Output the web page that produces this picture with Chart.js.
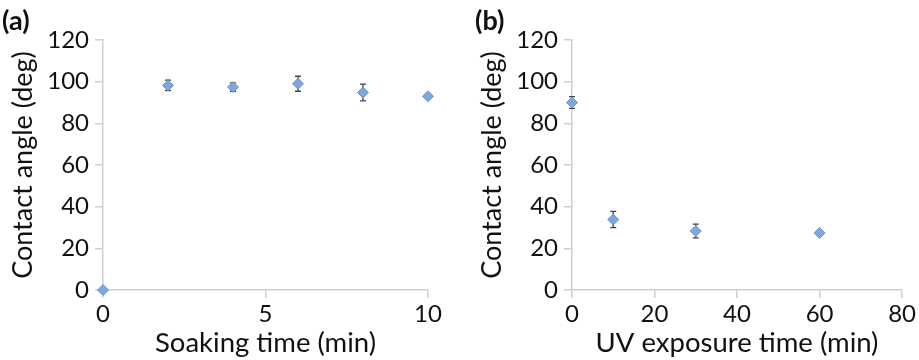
<!DOCTYPE html>
<html>
<head>
<meta charset="utf-8">
<script src="https://cdn.jsdelivr.net/npm/chart.js@4.4.1/dist/chart.umd.min.js"></script>
<style>
  html, body { margin: 0; padding: 0; background: #ffffff; }
  #wrap { position: relative; width: 919px; height: 360px; display: flex; }
  .panel { position: relative; height: 360px; }
  #pa { width: 459px; }
  #pb { width: 460px; }
</style>
</head>
<body>
<div id="wrap">
  <div class="panel" id="pa"><canvas id="chartA"></canvas></div>
  <div class="panel" id="pb"><canvas id="chartB"></canvas></div>
</div>
<script>
// Panel (a): soaking time
const soakTime  = [0, 2, 4, 6, 8, 10];
const soakAngle = [0, 98.2, 97.4, 99.0, 94.8, 93.0];
const soakErr   = [0, 2.5, 2.0, 3.6, 4.0, 0];
const soakXTicks = [0, 5, 10];

// Panel (b): UV exposure time
const uvTime  = [0, 10, 30, 60];
const uvAngle = [90.0, 33.8, 28.3, 27.4];
const uvErr   = [2.8, 3.9, 3.3, 0];
const uvXTicks = [0, 20, 40, 60, 80];

const yTicks = [0, 20, 40, 60, 80, 100, 120];

const FONT = "Lato, 'Open Sans', sans-serif";
const AXIS_COLOR = '#cfcfcf';
const TEXT_COLOR = '#111111';
const POINT_FILL = '#7ea7da';
const POINT_EDGE = '#6b96cf';
const ERR_COLOR = '#444444';

const errorBarPlugin = {
  id: 'errorBars',
  beforeDatasetsDraw(chart) {
    const ctx = chart.ctx;
    const xs = chart.scales.x, ys = chart.scales.y;
    chart.data.datasets.forEach(ds => {
      const errs = ds.errors || [];
      ds.data.forEach((p, i) => {
        const e = errs[i];
        if (!e) return;
        const px = xs.getPixelForValue(p.x);
        const top = ys.getPixelForValue(p.y + e);
        const bot = ys.getPixelForValue(p.y - e);
        ctx.save();
        ctx.strokeStyle = ERR_COLOR;
        ctx.lineWidth = 1.3;
        ctx.beginPath();
        ctx.moveTo(px, top); ctx.lineTo(px, bot);
        ctx.moveTo(px - 3, top); ctx.lineTo(px + 3, top);
        ctx.moveTo(px - 3, bot); ctx.lineTo(px + 3, bot);
        ctx.stroke();
        ctx.restore();
      });
    });
  }
};

function makeChart(id, opts) {
  const pts = opts.x.map((v, i) => ({x: v, y: opts.y[i]}));
  return new Chart(document.getElementById(id), {
    type: 'scatter',
    data: {
      datasets: [{
        data: pts,
        errors: opts.err,
        pointStyle: 'rectRot',
        pointRadius: 5.5,
        pointHoverRadius: 5.5,
        backgroundColor: POINT_FILL,
        borderColor: POINT_EDGE,
        borderWidth: 1,
        clip: false
      }]
    },
    options: {
      responsive: false,
      animation: false,
      events: [],
      layout: { padding: { left: opts.padLeft, top: 0, right: opts.padRight, bottom: 0 } },
      plugins: {
        legend: { display: false },
        tooltip: { enabled: false },
        title: {
          display: true,
          text: opts.label,
          align: 'start',
          color: TEXT_COLOR,
          font: { family: FONT, weight: 'bold', size: 27, lineHeight: 1.2 },
          padding: { top: 5, bottom: 2.6 }
        }
      },
      scales: {
        x: {
          type: 'linear',
          min: opts.xMin, max: opts.xMax,
          afterBuildTicks: s => { s.ticks = opts.xTicks.map(v => ({value: v})); },
          afterFit: s => { s.height = 70; },
          grid: { display: true, drawOnChartArea: false, drawTicks: true, tickLength: 8, color: AXIS_COLOR, lineWidth: 1.5 },
          border: { display: true, color: AXIS_COLOR, width: 1.5 },
          ticks: { color: TEXT_COLOR, font: { family: FONT, size: 24, lineHeight: 1.1 }, padding: 3, maxRotation: 0 },
          title: { display: true, text: opts.xTitle, color: TEXT_COLOR, font: { family: FONT, size: 27.5, lineHeight: 1.2 }, padding: { top: 0, bottom: 0 } }
        },
        y: {
          type: 'linear',
          min: 0, max: 120,
          afterBuildTicks: s => { s.ticks = yTicks.map(v => ({value: v})); },
          afterFit: s => { s.width = opts.yWidth; },
          grid: { display: true, drawOnChartArea: false, drawTicks: true, tickLength: 8, color: AXIS_COLOR, lineWidth: 1.5 },
          border: { display: true, color: AXIS_COLOR, width: 1.5 },
          ticks: { color: TEXT_COLOR, font: { family: FONT, size: 24, lineHeight: 1.1 }, padding: 6 },
          title: { display: true, text: 'Contact angle (deg)', color: TEXT_COLOR, font: { family: FONT, size: 27, lineHeight: 1.2 }, padding: { top: opts.yTitlePad, bottom: 2 } }
        }
      }
    },
    plugins: [errorBarPlugin]
  });
}

function sizeCanvas(id, w, h) {
  const c = document.getElementById(id);
  c.width = w; c.height = h;
  c.style.width = w + 'px'; c.style.height = h + 'px';
}
sizeCanvas('chartA', 459, 360);
sizeCanvas('chartB', 460, 360);

makeChart('chartA', {
  x: soakTime, y: soakAngle, err: soakErr, xTicks: soakXTicks,
  xMin: 0, xMax: 10, label: '(a)', xTitle: 'Soaking time (min)',
  padLeft: 2, padRight: 31, yWidth: 101, yTitlePad: 5
});
makeChart('chartB', {
  x: uvTime, y: uvAngle, err: uvErr, xTicks: uvXTicks,
  xMin: 0, xMax: 80, label: '(b)', xTitle: 'UV exposure time (min)',
  padLeft: 16, padRight: 14, yWidth: 97, yTitlePad: 1
});
</script>
</body>
</html>
